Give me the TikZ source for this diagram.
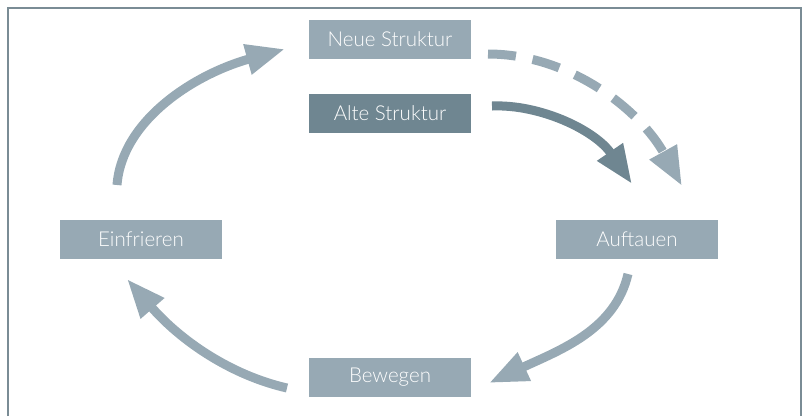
\documentclass[tikz,border=0pt]{standalone}
\usepackage{fontspec}
\setmainfont{Lato Light}
\usetikzlibrary{arrows.meta}
\definecolor{boxlight}{HTML}{97A9B4}
\definecolor{boxdark}{HTML}{6F8691}
\definecolor{framec}{HTML}{7A8C95}
\begin{document}
\begin{tikzpicture}[x=1pt,y=-1pt,
  box/.style={fill=boxlight,text=white,minimum width=162pt,minimum height=39pt,inner sep=0pt,font=\fontsize{20.5}{22}\selectfont},
  darkbox/.style={box,fill=boxdark},
  bigarrow/.style={line width=9pt,boxlight,-{Triangle[length=39pt,width=29pt]}},
  darkarrow/.style={bigarrow,boxdark},
  dasharrow/.style={bigarrow,dash pattern=on 28pt off 17pt}]
\useasboundingbox (0,0) rectangle (803,416);
\draw[framec,line width=2pt] (8.3,416) -- (8.3,8.3) -- (801,8.3) -- (801,416);
\node[box] (neue) at (390,39.5) {Neue Struktur};
\node[darkbox] (alte) at (390,113.5) {Alte Struktur};
\node[box] (auf) at (637,239) {Auftauen};
\node[box] (einf) at (141,239) {Einfrieren};
\node[box] (bew) at (390,377.5) {Bewegen};
\coordinate (a1s) at (117,185);
\coordinate (a1e) at (285,49);
\coordinate (a2s) at (492,106);
\coordinate (a2e) at (632,184);
\coordinate (a3s) at (488,54);
\coordinate (a3e) at (682,186);
\coordinate (a4s) at (628,274);
\coordinate (a4e) at (489,383);
\coordinate (a5s) at (287,388);
\coordinate (a5e) at (127,279);
\draw[bigarrow] (a1s) .. controls (122,120) and (195,74) .. (a1e);
\draw[darkarrow] (a2s) .. controls (540,104) and (595,130) .. (a2e);
\draw[dasharrow] (a3s) .. controls (570,54) and (640,110) .. (a3e);
\draw[bigarrow] (a4s) .. controls (615,330) and (560,350) .. (a4e);
\draw[bigarrow] (a5s) .. controls (230,375) and (180,340) .. (a5e);
\end{tikzpicture}
\end{document}
